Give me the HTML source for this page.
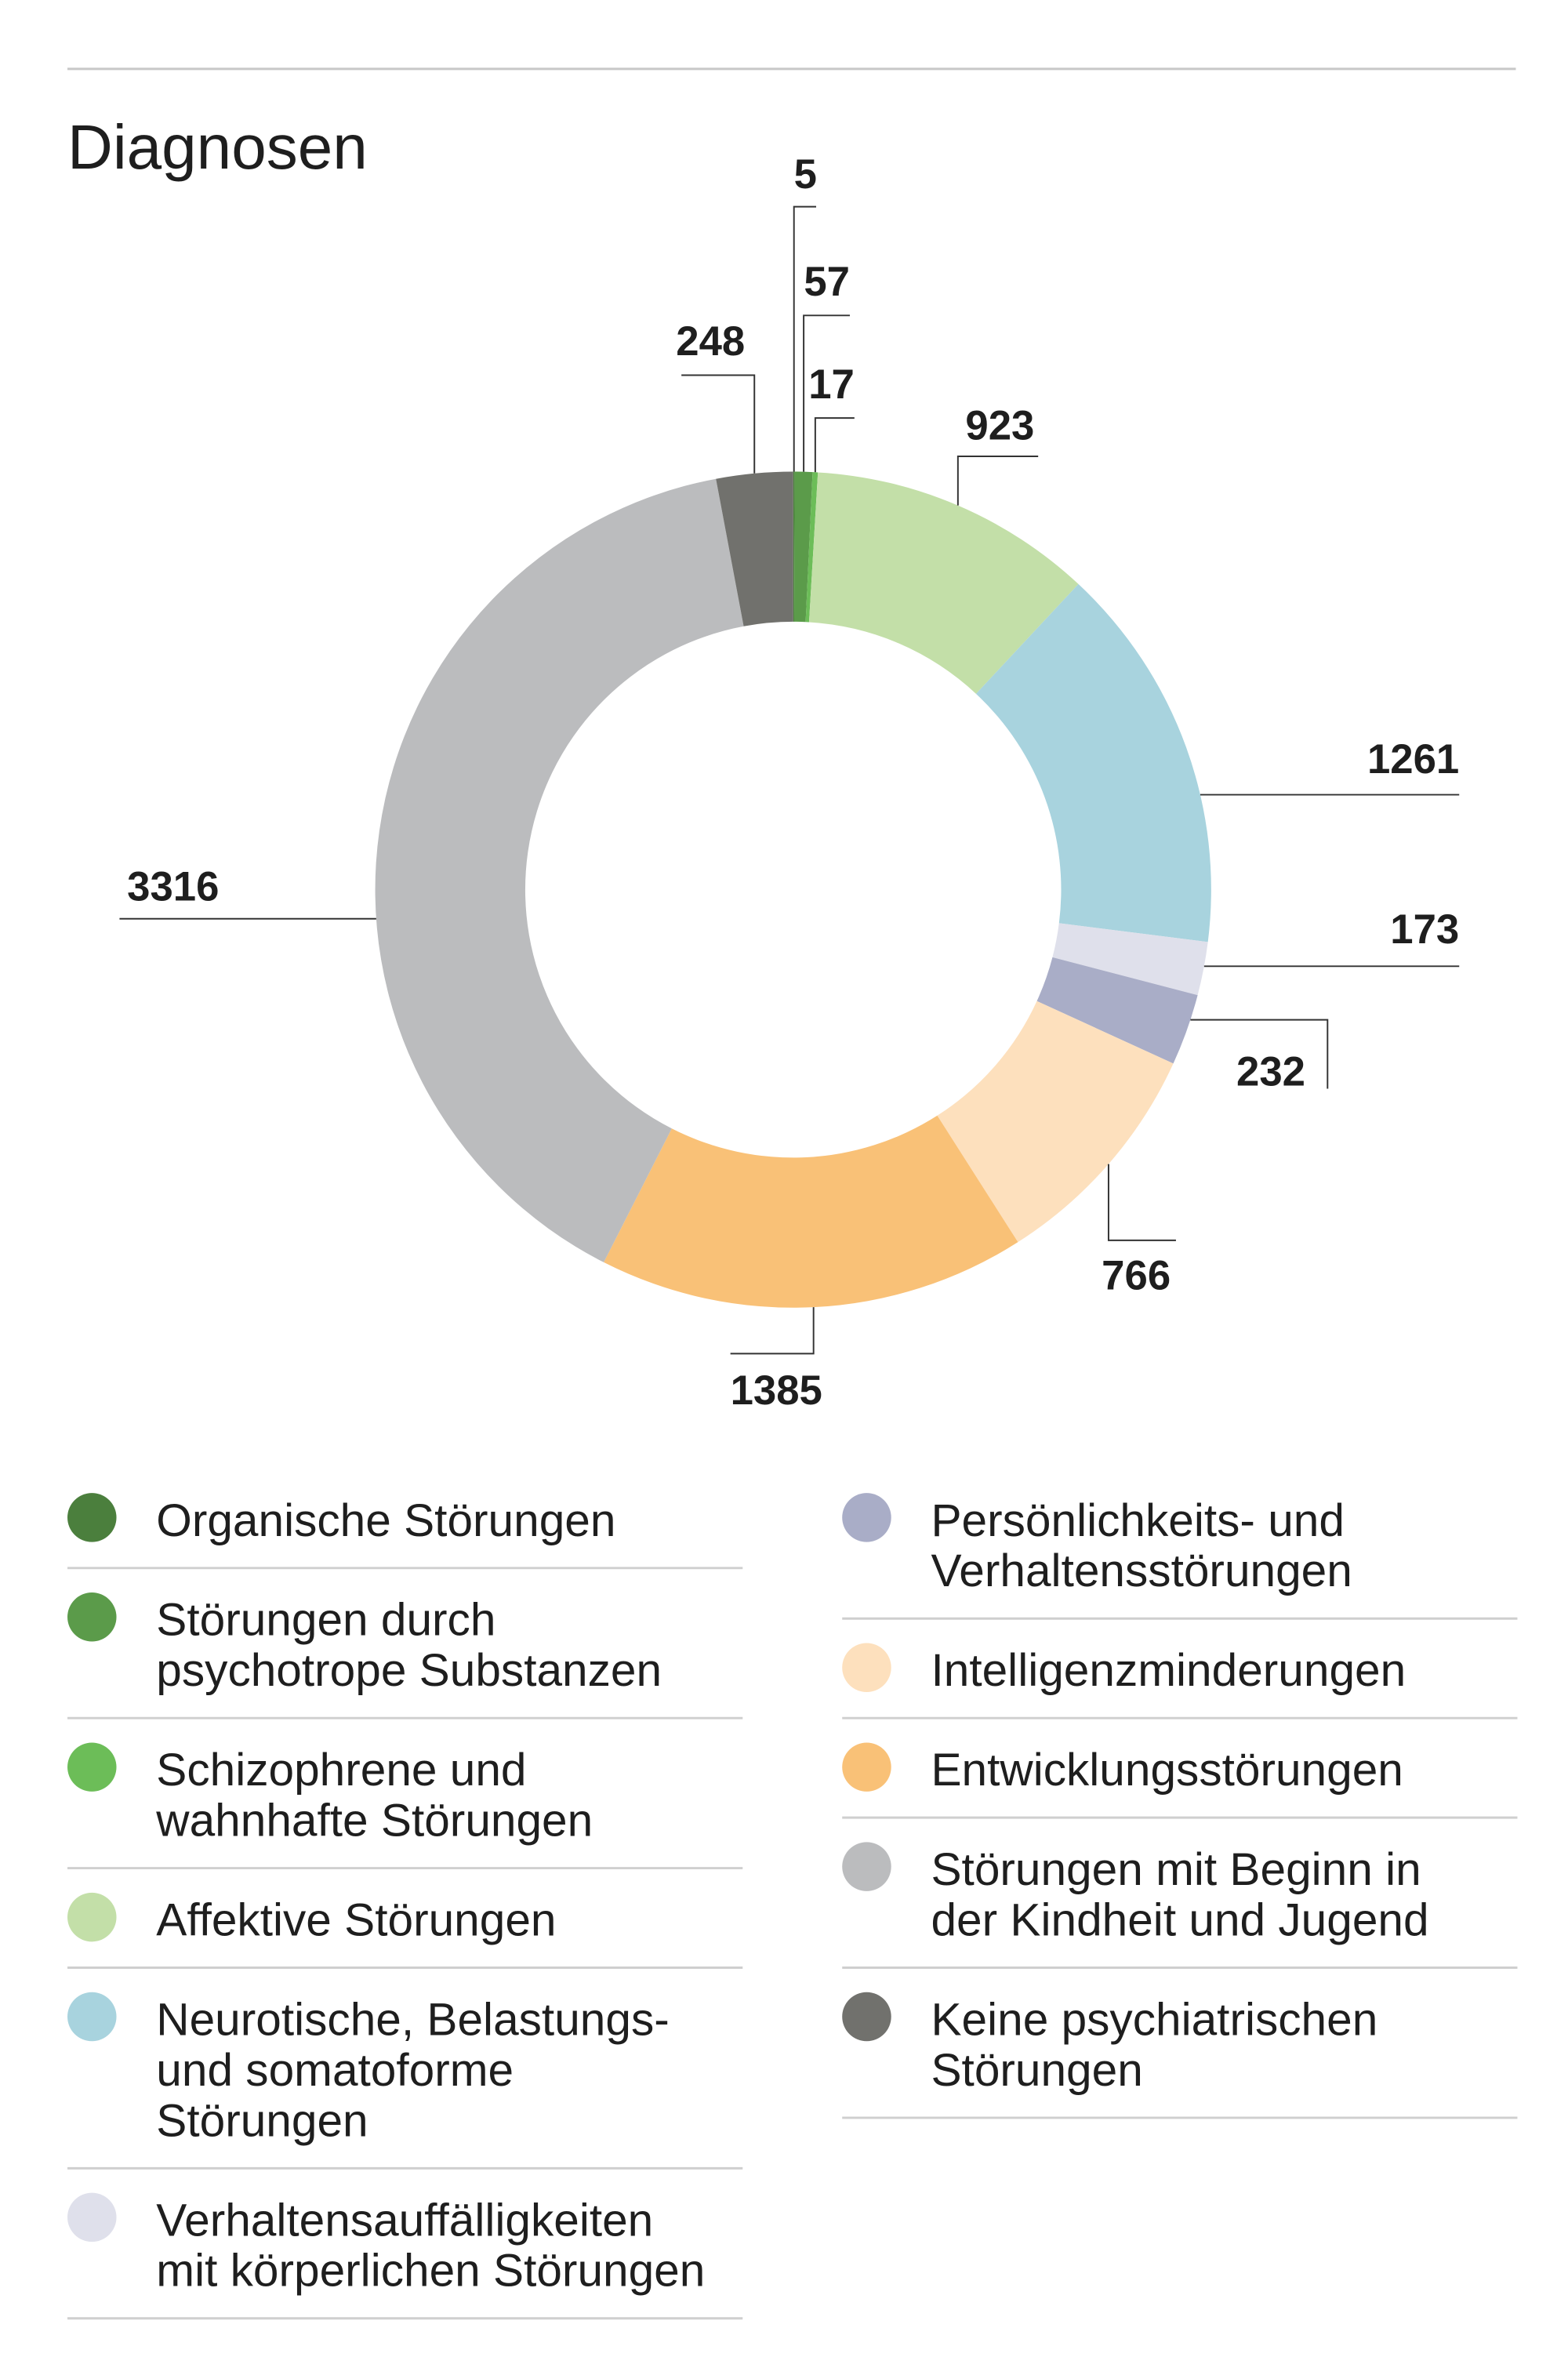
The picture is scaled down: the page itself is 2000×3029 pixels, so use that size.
<!DOCTYPE html>
<html><head><meta charset="utf-8">
<style>
html,body{margin:0;padding:0;background:#fff;}
svg{display:block;}
text{font-family:"Liberation Sans",sans-serif;fill:#1e1e1e;}
</style></head>
<body>
<svg id="chart" width="2000" height="3029" viewBox="0 0 1024 1551" xmlns="http://www.w3.org/2000/svg">
<line x1="44" y1="45" x2="990" y2="45" stroke="#c8c8c8" stroke-width="1.5"/>
<text x="44" y="110" font-size="41">Diagnosen</text>
<g id="donut"></g>
<g id="labels"></g>
<g id="legend"></g>
</svg>
<script>
const categories = ["Organische Störungen","Störungen durch psychotrope Substanzen","Schizophrene und wahnhafte Störungen","Affektive Störungen","Neurotische, Belastungs- und somatoforme Störungen","Verhaltensauffälligkeiten mit körperlichen Störungen","Persönlichkeits- und Verhaltensstörungen","Intelligenzminderungen","Entwicklungsstörungen","Störungen mit Beginn in der Kindheit und Jugend","Keine psychiatrischen Störungen"];
const values = [5,57,17,923,1261,173,232,766,1385,3316,248];
const colors = ["#4b7f3d","#5b9b4a","#6cbd58","#c3dfa8","#a8d3de","#dfe0eb","#a9adc7","#fde0bd","#f9c177","#bbbcbe","#71716d"];
const legendLines = [["Organische Störungen"],["Störungen durch","psychotrope Substanzen"],["Schizophrene und","wahnhafte Störungen"],["Affektive Störungen"],["Neurotische, Belastungs-","und somatoforme","Störungen"],["Verhaltensauffälligkeiten","mit körperlichen Störungen"],["Persönlichkeits- und","Verhaltensstörungen"],["Intelligenzminderungen"],["Entwicklungsstörungen"],["Störungen mit Beginn in","der Kindheit und Jugend"],["Keine psychiatrischen","Störungen"]];

const NS="http://www.w3.org/2000/svg";
const cx=518, cy=581, R=273, r=175;
const total=values.reduce((a,b)=>a+b,0);
function pt(a,rad){return [cx+rad*Math.sin(a), cy-rad*Math.cos(a)];}
const donut=document.getElementById('donut');
let acc=0; const mids=[];
values.forEach((v,i)=>{
  const a0=acc/total*2*Math.PI; acc+=v; const a1=acc/total*2*Math.PI;
  mids.push((a0+a1)/2);
  const large=(a1-a0)>Math.PI?1:0;
  const p0=pt(a0,R),p1=pt(a1,R),q1=pt(a1,r),q0=pt(a0,r);
  const p=document.createElementNS(NS,'path');
  p.setAttribute('d',`M${p0[0]},${p0[1]} A${R},${R} 0 ${large} 1 ${p1[0]},${p1[1]} L${q1[0]},${q1[1]} A${r},${r} 0 ${large} 0 ${q0[0]},${q0[1]} Z`);
  p.setAttribute('fill',colors[i]);
  
  
  donut.appendChild(p);
});
const layout=[
 {t:'v',e:135,x2:533,tx:526,ty:123,a:'middle'},
 {t:'v',e:206,x2:555,tx:540,ty:193,a:'middle'},
 {t:'v',e:273,x2:558,tx:543,ty:260,a:'middle'},
 {t:'v',e:298,x2:678,tx:653,ty:287,a:'middle'},
 {t:'h',y:519,x2:953,tx:953,ty:505,a:'end'},
 {t:'h',y:631,x2:953,tx:953,ty:616,a:'end'},
 {t:'hv',y:666,x2:867,y2:711,tx:830,ty:709,a:'middle'},
 {t:'v',e:810,x2:768,tx:742,ty:842,a:'middle'},
 {t:'v',e:884,x2:477,tx:507,ty:917,a:'middle'},
 {t:'h',y:600,x2:78,tx:113,ty:588,a:'middle'},
 {t:'v',e:245,x2:445,tx:464,ty:232,a:'middle'}
];
const lg=document.getElementById('labels');
values.forEach((v,i)=>{
  const L=layout[i];
  let s=pt(mids[i],R);
  if(L.y!==undefined){
    const dx=Math.sqrt(Math.max(0,R*R-(L.y-cy)*(L.y-cy)));
    s=[s[0]>=cx?cx+dx:cx-dx, L.y];
  }
  let pts;
  if(L.t==='v') pts=[s,[s[0],L.e],[L.x2,L.e]];
  else if(L.t==='h') pts=[s,[L.x2,s[1]]];
  else pts=[s,[L.x2,s[1]],[L.x2,L.y2]];
  const pl=document.createElementNS(NS,'polyline');
  pl.setAttribute('points',pts.map(p=>p.join(',')).join(' '));
  pl.setAttribute('fill','none');pl.setAttribute('stroke','#333');pl.setAttribute('stroke-width','1');
  
  
  lg.appendChild(pl);
  const t=document.createElementNS(NS,'text');
  t.setAttribute('x',L.tx);t.setAttribute('y',L.ty);t.setAttribute('text-anchor',L.a);
  t.setAttribute('font-size','27');t.setAttribute('font-weight','bold');
  t.textContent=v;
  
  
  lg.appendChild(t);
});
const leg=document.getElementById('legend');
const cols=[{x:44,cx:60,tx:102,items:[0,1,2,3,4,5]},{x:550,cx:566,tx:608,items:[6,7,8,9,10]}];
const lineH=33;
cols.forEach(c=>{
  let y=975;
  c.items.forEach(i=>{
    const n=legendLines[i].length;
    const first=y+18;
    const ci=document.createElementNS(NS,'circle');
    ci.setAttribute('cx',c.cx);ci.setAttribute('cy',first-2);ci.setAttribute('r',16);ci.setAttribute('fill',colors[i]);
    
    
    leg.appendChild(ci);
    legendLines[i].forEach((ln,k)=>{
      const t=document.createElementNS(NS,'text');
      t.setAttribute('x',c.tx);t.setAttribute('y',first+10+k*lineH);t.setAttribute('font-size','30');
      t.textContent=ln;
      
      
      leg.appendChild(t);
    });
    const dy=first+(n-1)*lineH+31;
    const l=document.createElementNS(NS,'line');
    l.setAttribute('x1',c.x);l.setAttribute('x2',c.x+441);l.setAttribute('y1',dy);l.setAttribute('y2',dy);
    l.setAttribute('stroke','#cfcfcf');l.setAttribute('stroke-width','1.5');
    
    
    leg.appendChild(l);
    y=dy+16;
  });
});
</script>
</body></html>
